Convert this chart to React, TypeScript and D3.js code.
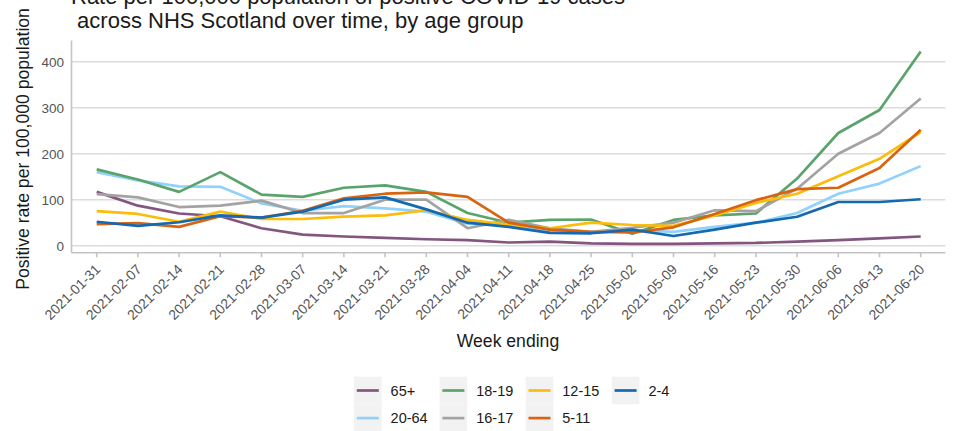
import React from "react";
import * as d3 from "d3";

const weeks: string[] = [
  "2021-01-31", "2021-02-07", "2021-02-14", "2021-02-21", "2021-02-28", "2021-03-07",
  "2021-03-14", "2021-03-21", "2021-03-28", "2021-04-04", "2021-04-11", "2021-04-18",
  "2021-04-25", "2021-05-02", "2021-05-09", "2021-05-16", "2021-05-23", "2021-05-30",
  "2021-06-06", "2021-06-13", "2021-06-20",
];

const yTicks: number[] = [0, 100, 200, 300, 400];

const age65plus: number[] = [117, 87, 70, 64, 38, 24, 20, 17, 14, 12, 7, 9, 5, 4, 4, 5, 6, 9, 12, 16, 20];
const age20to64: number[] = [160, 142, 129, 128, 92, 76, 86, 81, 74, 48, 45, 32, 28, 34, 30, 41, 50, 71, 113, 135, 173];
const age18to19: number[] = [166, 144, 117, 160, 111, 106, 126, 131, 117, 71, 50, 56, 57, 26, 56, 66, 70, 146, 245, 295, 422];
const age16to17: number[] = [112, 105, 84, 87, 98, 71, 71, 100, 100, 38, 56, 38, 30, 39, 50, 77, 75, 124, 200, 245, 320];
const age12to15: number[] = [75, 69, 52, 74, 58, 58, 63, 66, 77, 56, 46, 38, 50, 45, 43, 66, 93, 113, 151, 189, 247];
const age5to11: number[] = [47, 49, 41, 64, 61, 76, 103, 113, 116, 106, 50, 35, 30, 29, 40, 69, 99, 123, 126, 169, 252];
const age2to4: number[] = [52, 43, 51, 66, 61, 74, 100, 105, 79, 50, 41, 28, 27, 35, 21, 35, 50, 63, 95, 95, 101];

const groupNames: string[] = ["65+", "20-64", "18-19", "16-17", "12-15", "5-11", "2-4"];
const groupColors: string[] = ["#84567f", "#90d2fb", "#5aa46c", "#a3a3a3", "#fcbc0a", "#d9640f", "#1469b0"];
const groupValues: number[][] = [age65plus, age20to64, age18to19, age16to17, age12to15, age5to11, age2to4];

const FONT = "'Liberation Sans', Arial, Helvetica, sans-serif";

export default function App() {
  const W = 960;
  const H = 431;
  const panelLeft = 71.5;
  const panelRight = 945.5;
  const panelTop = 40.5;
  const panelBottom = 252.7;

  const x = d3.scalePoint<string>().domain(weeks).range([96.7, 920.7]);
  const y = d3.scaleLinear().domain([0, 400]).range([245.7, 61.7]);

  const line = d3
    .line<number>()
    .x((_, i) => x(weeks[i]) as number)
    .y((d) => y(d));

  const series = groupNames.map((name, i) => ({ name, color: groupColors[i], values: groupValues[i] }));

  // legend layout: column-wise, 2 rows
  const keyX = [354, 439.6, 525.7, 611.8];
  const keyTop = 376.7;
  const keySize = 27.6;

  return (
    <svg
      width={W}
      height={H}
      viewBox={`0 0 ${W} ${H}`}
      style={{ position: "absolute", left: 0, top: 0, background: "#fff" }}
    >
      <rect x={0} y={0} width={W} height={H} fill="#fff" />
      {/* title */}
      <text x={71} y={3.5} fontFamily={FONT} fontSize={22} fill="#1a1a1a">
        Rate per 100,000 population of positive COVID-19 cases
      </text>
      <text x={71} y={27.5} fontFamily={FONT} fontSize={22} fill="#1a1a1a" style={{ whiteSpace: "pre" }}>
        {" across NHS Scotland over time, by age group"}
      </text>

      {/* gridlines */}
      {yTicks.map((t) => (
        <line key={t} x1={panelLeft} x2={panelRight} y1={y(t)} y2={y(t)} stroke="#dcdcdc" strokeWidth={1.6} />
      ))}

      {/* axes */}
      <line x1={panelLeft} x2={panelLeft} y1={panelTop} y2={panelBottom} stroke="#c4c4c4" strokeWidth={1.6} />
      <line x1={panelLeft} x2={panelRight} y1={panelBottom} y2={panelBottom} stroke="#c4c4c4" strokeWidth={1.6} />

      {/* y tick labels */}
      {yTicks.map((t) => (
        <text
          key={t}
          x={64}
          y={y(t)}
          dy="0.36em"
          textAnchor="end"
          fontFamily={FONT}
          fontSize={13.5}
          fill="#555"
        >
          {t}
        </text>
      ))}

      {/* x ticks and labels */}
      {weeks.map((w) => {
        const px = x(w) as number;
        return (
          <g key={w}>
            <line x1={px} x2={px} y1={panelBottom} y2={panelBottom + 4.5} stroke="#c4c4c4" strokeWidth={1.6} />
            <text
              transform={`translate(${px + 4.5},${panelBottom + 17.5}) rotate(-45)`}
              textAnchor="end"
              fontFamily={FONT}
              fontSize={14}
              fill="#555"
            >
              {w}
            </text>
          </g>
        );
      })}

      {/* axis titles */}
      <text x={508} y={346.5} textAnchor="middle" fontFamily={FONT} fontSize={17.6} fill="#1a1a1a">
        Week ending
      </text>
      <text
        transform={`translate(29,149) rotate(-90)`}
        textAnchor="middle"
        fontFamily={FONT}
        fontSize={17.6}
        fill="#1a1a1a"
      >
        Positive rate per 100,000 population
      </text>

      {/* lines */}
      {series.map((s) => (
        <path
          key={s.name}
          d={line(s.values) || ""}
          fill="none"
          stroke={s.color}
          strokeWidth={2.7}
          strokeLinejoin="round"
          strokeLinecap="butt"
        />
      ))}

      {/* legend */}
      {series.map((s, i) => {
        const col = Math.floor(i / 2);
        const row = i % 2;
        const kx = keyX[col];
        const ky = keyTop + row * keySize;
        return (
          <g key={s.name}>
            <rect x={kx} y={ky} width={keySize} height={keySize} fill="#f2f2f2" />
            <line
              x1={kx + 2.8}
              x2={kx + keySize - 2.8}
              y1={ky + keySize / 2}
              y2={ky + keySize / 2}
              stroke={s.color}
              strokeWidth={2.7}
            />
            <text
              x={kx + keySize + 9}
              y={ky + keySize / 2}
              dy="0.36em"
              fontFamily={FONT}
              fontSize={14.5}
              fill="#1a1a1a"
            >
              {s.name}
            </text>
          </g>
        );
      })}
    </svg>
  );
}
